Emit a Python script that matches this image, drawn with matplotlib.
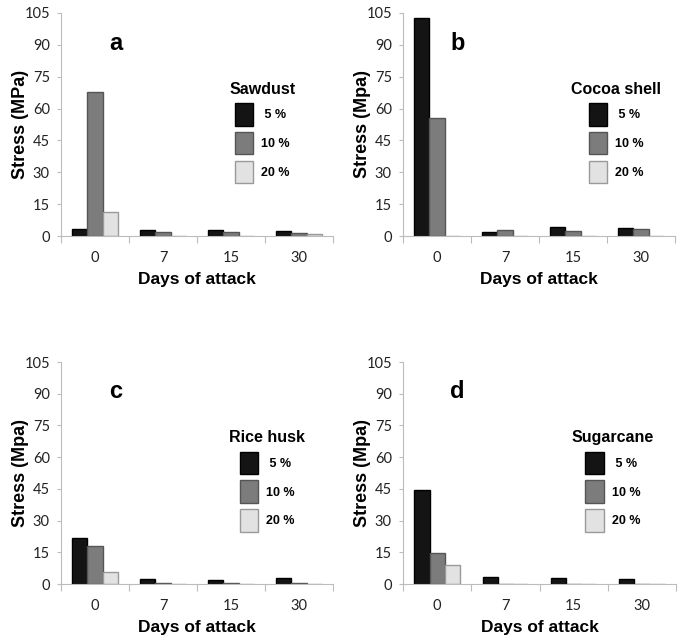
import matplotlib
matplotlib.use("Agg")
import matplotlib.pyplot as plt
import numpy as np
from matplotlib.patches import Patch

days = ["0", "7", "15", "30"]
series_labels = [" 5 %", "10 %", "20 %"]
panel_letters = ["a", "b", "c", "d"]
materials = ["Sawdust", "Cocoa shell", "Rice husk", "Sugarcane"]
ylabels = ["Stress (MPa)", "Stress (Mpa)", "Stress (Mpa)", "Stress (Mpa)"]

sawdust_5 = [3.3, 3.0, 3.0, 2.5]
sawdust_10 = [68.0, 2.0, 2.0, 1.6]
sawdust_20 = [11.1, 0.0, 0.0, 0.8]

cocoa_5 = [102.7, 1.7, 4.4, 3.6]
cocoa_10 = [55.6, 2.7, 2.4, 3.1]
cocoa_20 = [0.0, 0.0, 0.0, 0.0]

rice_5 = [21.7, 2.4, 2.0, 2.7]
rice_10 = [17.8, 0.6, 0.6, 0.6]
rice_20 = [5.8, 0.0, 0.0, 0.0]

sugar_5 = [44.5, 3.3, 2.8, 2.5]
sugar_10 = [14.7, 0.0, 0.0, 0.0]
sugar_20 = [9.0, 0.0, 0.0, 0.0]

panels = [
    (sawdust_5, sawdust_10, sawdust_20),
    (cocoa_5, cocoa_10, cocoa_20),
    (rice_5, rice_10, rice_20),
    (sugar_5, sugar_10, sugar_20),
]

face_colors = ["#141414", "#7c7c7c", "#e2e2e2"]
edge_colors = ["#000000", "#555555", "#9a9a9a"]

W, H = 683, 638
fig = plt.figure(figsize=(W / 100, H / 100), dpi=100)

boxes = [
    (61, 13, 333, 236),
    (403, 13, 675, 236),
    (61, 362, 333, 584),
    (403, 362, 676, 584),
]

tick_font = ["Lato", "DejaVu Sans"]
bold_font = ["Liberation Sans", "DejaVu Sans"]

bar_w = 1 / 4.5
x = np.arange(len(days))

for i, (l, t, r, b) in enumerate(boxes):
    ax = fig.add_axes([l / W, (H - b) / H, (r - l) / W, (b - t) / H])
    vals = panels[i]
    for k in range(3):
        ax.bar(x + (k - 1) * bar_w, vals[k], width=bar_w,
               color=face_colors[k], edgecolor=edge_colors[k], linewidth=1.0,
               label=series_labels[k])
    ax.set_xlim(-0.5, len(days) - 0.5)
    ax.set_ylim(0, 105)
    ax.set_yticks(np.arange(0, 106, 15))
    ax.set_xticks(np.arange(-0.5, len(days), 1.0))
    ax.set_xticklabels([])
    ax.set_xticks(x, minor=True)
    ax.set_xticklabels(days, minor=True)
    ax.tick_params(axis="x", which="major", direction="out", length=5,
                   color="#bcbcbc", width=0.8)
    ax.tick_params(axis="x", which="minor", length=0, pad=11, labelsize=10.5)
    ax.tick_params(axis="y", direction="out", length=3, color="#bcbcbc",
                   width=0.8, pad=5, labelsize=10.5)
    for lab in ax.get_xticklabels(minor=True) + ax.get_yticklabels():
        lab.set_family(tick_font)
        lab.set_color("#222222")
    for s in ["top", "right"]:
        ax.spines[s].set_visible(False)
    for s in ["left", "bottom"]:
        ax.spines[s].set_color("#bcbcbc")
        ax.spines[s].set_linewidth(0.8)

    ax.set_ylabel(ylabels[i], fontsize=13, fontweight="heavy", family=bold_font)
    ax.yaxis.set_label_coords(-0.118, 0.5)
    ax.set_xlabel("Days of attack", fontsize=12.5, fontweight="heavy", family=bold_font)
    ax.xaxis.set_label_coords(0.5, -0.16)

    ax.text(0.2, 0.865, panel_letters[i], transform=ax.transAxes,
            fontsize=17, fontweight="heavy", family=bold_font,
            ha="center", va="center")

    handles = [Patch(facecolor=face_colors[k], edgecolor=edge_colors[k],
                     linewidth=1.0) for k in range(3)]
    leg = ax.legend(handles, series_labels, title=materials[i],
                    loc="upper left", bbox_to_anchor=(0.595, 0.72),
                    frameon=False, borderpad=0, handlelength=1.5,
                    handleheight=2.4, labelspacing=0.5, handletextpad=0.6,
                    prop={"family": bold_font, "weight": "bold", "size": 9},
                    title_fontproperties={"family": bold_font, "weight": "bold",
                                          "size": 11.5})

fig.savefig("out.png", dpi=100)
